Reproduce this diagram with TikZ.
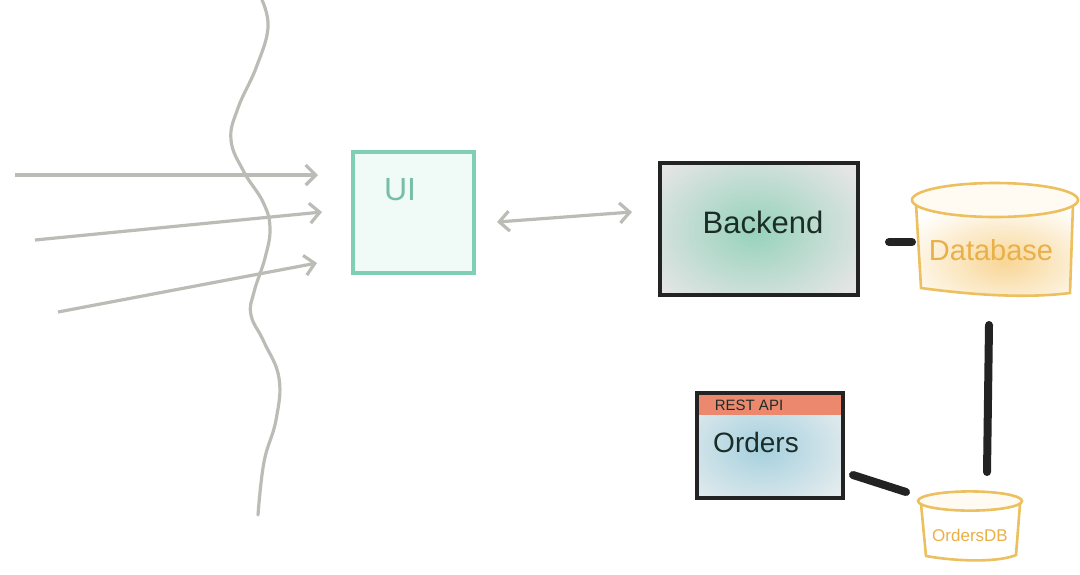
\documentclass[tikz,border=0pt]{standalone}
\usepackage{fontspec}
\setmainfont{Liberation Sans}
\usetikzlibrary{arrows.meta}
\definecolor{grayline}{RGB}{188,188,182}
\definecolor{tealb}{RGB}{128,206,180}
\definecolor{tealfill}{RGB}{240,250,246}
\definecolor{tealtxt}{RGB}{118,190,165}
\definecolor{tealblob}{RGB}{150,210,188}
\definecolor{bkfill}{RGB}{229,229,229}
\definecolor{darktxt}{RGB}{28,45,40}
\definecolor{orng}{RGB}{236,192,95}
\definecolor{orngtxt}{RGB}{234,176,72}
\definecolor{orngblob}{RGB}{248,214,150}
\definecolor{cream}{RGB}{255,251,242}
\definecolor{blueblob}{RGB}{165,208,222}
\definecolor{ordfill}{RGB}{236,239,240}
\definecolor{salmon}{RGB}{236,136,110}
\definecolor{blk}{RGB}{35,35,35}
\tikzset{
  grayarrow/.style={draw=grayline, line width=1.6pt, -{Straight Barb[length=5pt,width=10pt,line width=1.6pt]}},
  grayboth/.style={draw=grayline, line width=1.6pt, {Straight Barb[length=5pt,width=10pt,line width=1.6pt]}-{Straight Barb[length=5pt,width=10pt,line width=1.6pt]}},
  blkline/.style={draw=blk, line width=4pt, line cap=round},
  box/.style={rectangle, inner sep=0pt, outer sep=0pt},
  orngline/.style={draw=orng, line width=1.3pt},
}
\begin{document}
\begin{tikzpicture}[x=0.5pt,y=-0.5pt]
\useasboundingbox[fill=white] (0,0) rectangle (1080,574);

% wavy boundary line
\draw[grayline, line width=1.6pt, line cap=round] plot[smooth, tension=0.7] coordinates {
 (262,0) (268,28) (256,68) (238,108) (231,140) (244,172) (263,202) (270,228)
 (265,258) (254,292) (251,315) (264,342) (279,378) (276,420) (264,462) (258,515)};

% UI box
\node[box, draw=tealb, line width=1.6pt, fill=tealfill, minimum width=60.5pt, minimum height=60.5pt] (ui) at (413.5,212.5) {};
\node[text=tealtxt, font=\fontsize{16}{16}\selectfont] (uitxt) at (400,190) {UI};

% incoming arrows
\coordinate (a1s) at (15,175);  \coordinate (a1e) at (318,175);
\coordinate (a2s) at (35,240);  \coordinate (a2e) at (322,212);
\coordinate (a3s) at (58,312);  \coordinate (a3e) at (317,263);
\draw[grayarrow] (a1s) -- (a1e);
\draw[grayarrow] (a2s) -- (a2e);
\draw[grayarrow] (a3s) -- (a3e);

% Backend box
\node[box, fill=bkfill, minimum width=99pt, minimum height=66pt] (backend) at (759,229) {};
\begin{scope}
\clip (660,163) rectangle (858,295);
\shade[inner color=tealblob, outer color=bkfill] (755,230) ellipse [x radius=62pt, y radius=46pt];
\end{scope}
\node[box, draw=blk, line width=2pt, minimum width=99pt, minimum height=66pt] at (759,229) {};
\node[text=darktxt, font=\fontsize{15.5}{16}\selectfont] (bktxt) at (763,222) {Backend};

% double arrow UI <-> Backend
\draw[grayboth] ([shift={(23,9.5)}]ui.east) -- ([shift={(-28,-17)}]backend.west);

% Database cylinder
\node[box, minimum width=77.5pt, minimum height=47.5pt] (db) at (994.5,247.5) {};
\begin{scope}
\clip (916,204) -- (921,288) .. controls (980,296) and (1030,298) .. (1070,293) -- (1073,204) -- cycle;
\fill[white] (900,190) rectangle (1080,300);
\shade[inner color=orngblob, outer color=white] (1005,262) ellipse [x radius=58pt, y radius=32pt];
\end{scope}
\draw[orngline] (916,204) -- (921,288) .. controls (980,296) and (1030,298) .. (1070,293) -- (1073,204);
\draw[orngline, fill=cream] (995,200) ellipse [x radius=41.5pt, y radius=8.5pt];
\node[text=orngtxt, font=\fontsize{14.5}{15}\selectfont] (dbtxt) at (991,250) {Database};

% Backend -- Database
\draw[blkline] ([shift={(31,13)}]backend.east) -- ([shift={(-5,-5.5)}]db.west);

% Orders box
\node[box, fill=ordfill, minimum width=73pt, minimum height=52.5pt] (orders) at (770,445.5) {};
\begin{scope}
\clip (697,393) rectangle (843,498);
\shade[inner color=blueblob, outer color=ordfill] (762,448) ellipse [x radius=55pt, y radius=38pt];
\fill[salmon] (697,393) rectangle (843,415);
\end{scope}
\node[box, draw=blk, line width=1.8pt, minimum width=73pt, minimum height=52.5pt] at (770,445.5) {};
\node[text=darktxt, font=\fontsize{7.5}{8}\selectfont] (resttxt) at (749,405.5) {REST API};
\node[text=darktxt, font=\fontsize{14}{15}\selectfont] (ordtxt) at (756,442) {Orders};

% OrdersDB cylinder
\node[box, minimum width=51pt, minimum height=29pt] (odb) at (971,531) {};
\fill[white] (921,506) -- (926,556) .. controls (960,562) and (1000,562) .. (1016,555) -- (1020,506) -- cycle;
\draw[orngline] (921,504) -- (926,556) .. controls (960,562) and (1000,562) .. (1016,555) -- (1020,504);
\draw[orngline, fill=cream] (970,501) ellipse [x radius=26pt, y radius=4.8pt];
\node[text=orngtxt, font=\fontsize{8.5}{9}\selectfont] (odbtxt) at (970,535) {OrdersDB};

% Database -- OrdersDB
\draw[blkline] ([shift={(-5.5,30)}]db.south) -- ([shift={(16,-30)}]odb.north);
% Orders -- OrdersDB
\draw[blkline] ([shift={(10,29.5)}]orders.east) -- ([shift={(-14,-39)}]odb.west);
\end{tikzpicture}
\end{document}
